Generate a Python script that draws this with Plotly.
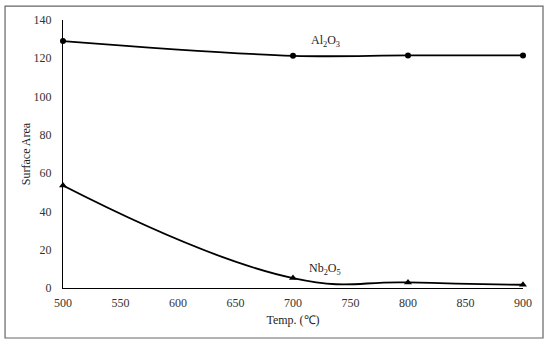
import plotly.graph_objects as go

temps = [500, 700, 800, 900]
al2o3 = [129.0, 121.3, 121.5, 121.5]
nb2o5 = [53.5, 5.2, 2.9, 1.7]
x_ticks = [500, 550, 600, 650, 700, 750, 800, 850, 900]
y_ticks = [0, 20, 40, 60, 80, 100, 120, 140]

FONT = "Liberation Serif"

fig = go.Figure()
fig.add_trace(go.Scatter(
    x=temps, y=al2o3, mode="lines+markers", name="Al2O3",
    line=dict(color="#000000", width=1.8, shape="spline", smoothing=1),
    marker=dict(symbol="circle", size=6, color="#000000"),
    cliponaxis=False,
))
fig.add_trace(go.Scatter(
    x=temps, y=nb2o5, mode="lines+markers", name="Nb2O5",
    line=dict(color="#000000", width=1.8, shape="spline", smoothing=1.3),
    marker=dict(symbol="triangle-up", size=7, color="#000000"),
    cliponaxis=False,
))

fig.add_annotation(x=728, y=129, text="Al<sub>2</sub>O<sub>3</sub>", showarrow=False,
                   font=dict(family=FONT, size=12, color="#222"))
fig.add_annotation(x=728, y=10, text="Nb<sub>2</sub>O<sub>5</sub>", showarrow=False,
                   font=dict(family=FONT, size=12, color="#222"))

fig.add_shape(type="rect", xref="paper", yref="paper",
              x0=-0.126, x1=1.0435, y0=-0.1866, y1=1.052,
              line=dict(color="#666666", width=1.2), fillcolor="rgba(0,0,0,0)", layer="below")

fig.update_layout(
    width=550, height=345,
    margin=dict(l=63, r=27, t=20, b=57),
    paper_bgcolor="white", plot_bgcolor="white",
    showlegend=False,
    font=dict(family=FONT, size=12, color="#333"),
    xaxis=dict(range=[500, 900], tickvals=x_ticks, showgrid=False, zeroline=False,
               showline=True, linecolor="#000", linewidth=1.3, ticks="", ticklabelstandoff=3,
               title=dict(text="Temp. (℃)", standoff=7, font=dict(family=FONT, size=12, color="#222"))),
    yaxis=dict(range=[0, 140], tickvals=y_ticks, showgrid=False, zeroline=False,
               showline=True, linecolor="#000", linewidth=1.3, ticks="", ticklabelstandoff=8,
               title=dict(text="Surface Area", standoff=0, font=dict(family=FONT, size=12, color="#222"))),
)

fig.write_html("out.html", config={"displayModeBar": False},
               post_script="document.body.style.margin='0';")
